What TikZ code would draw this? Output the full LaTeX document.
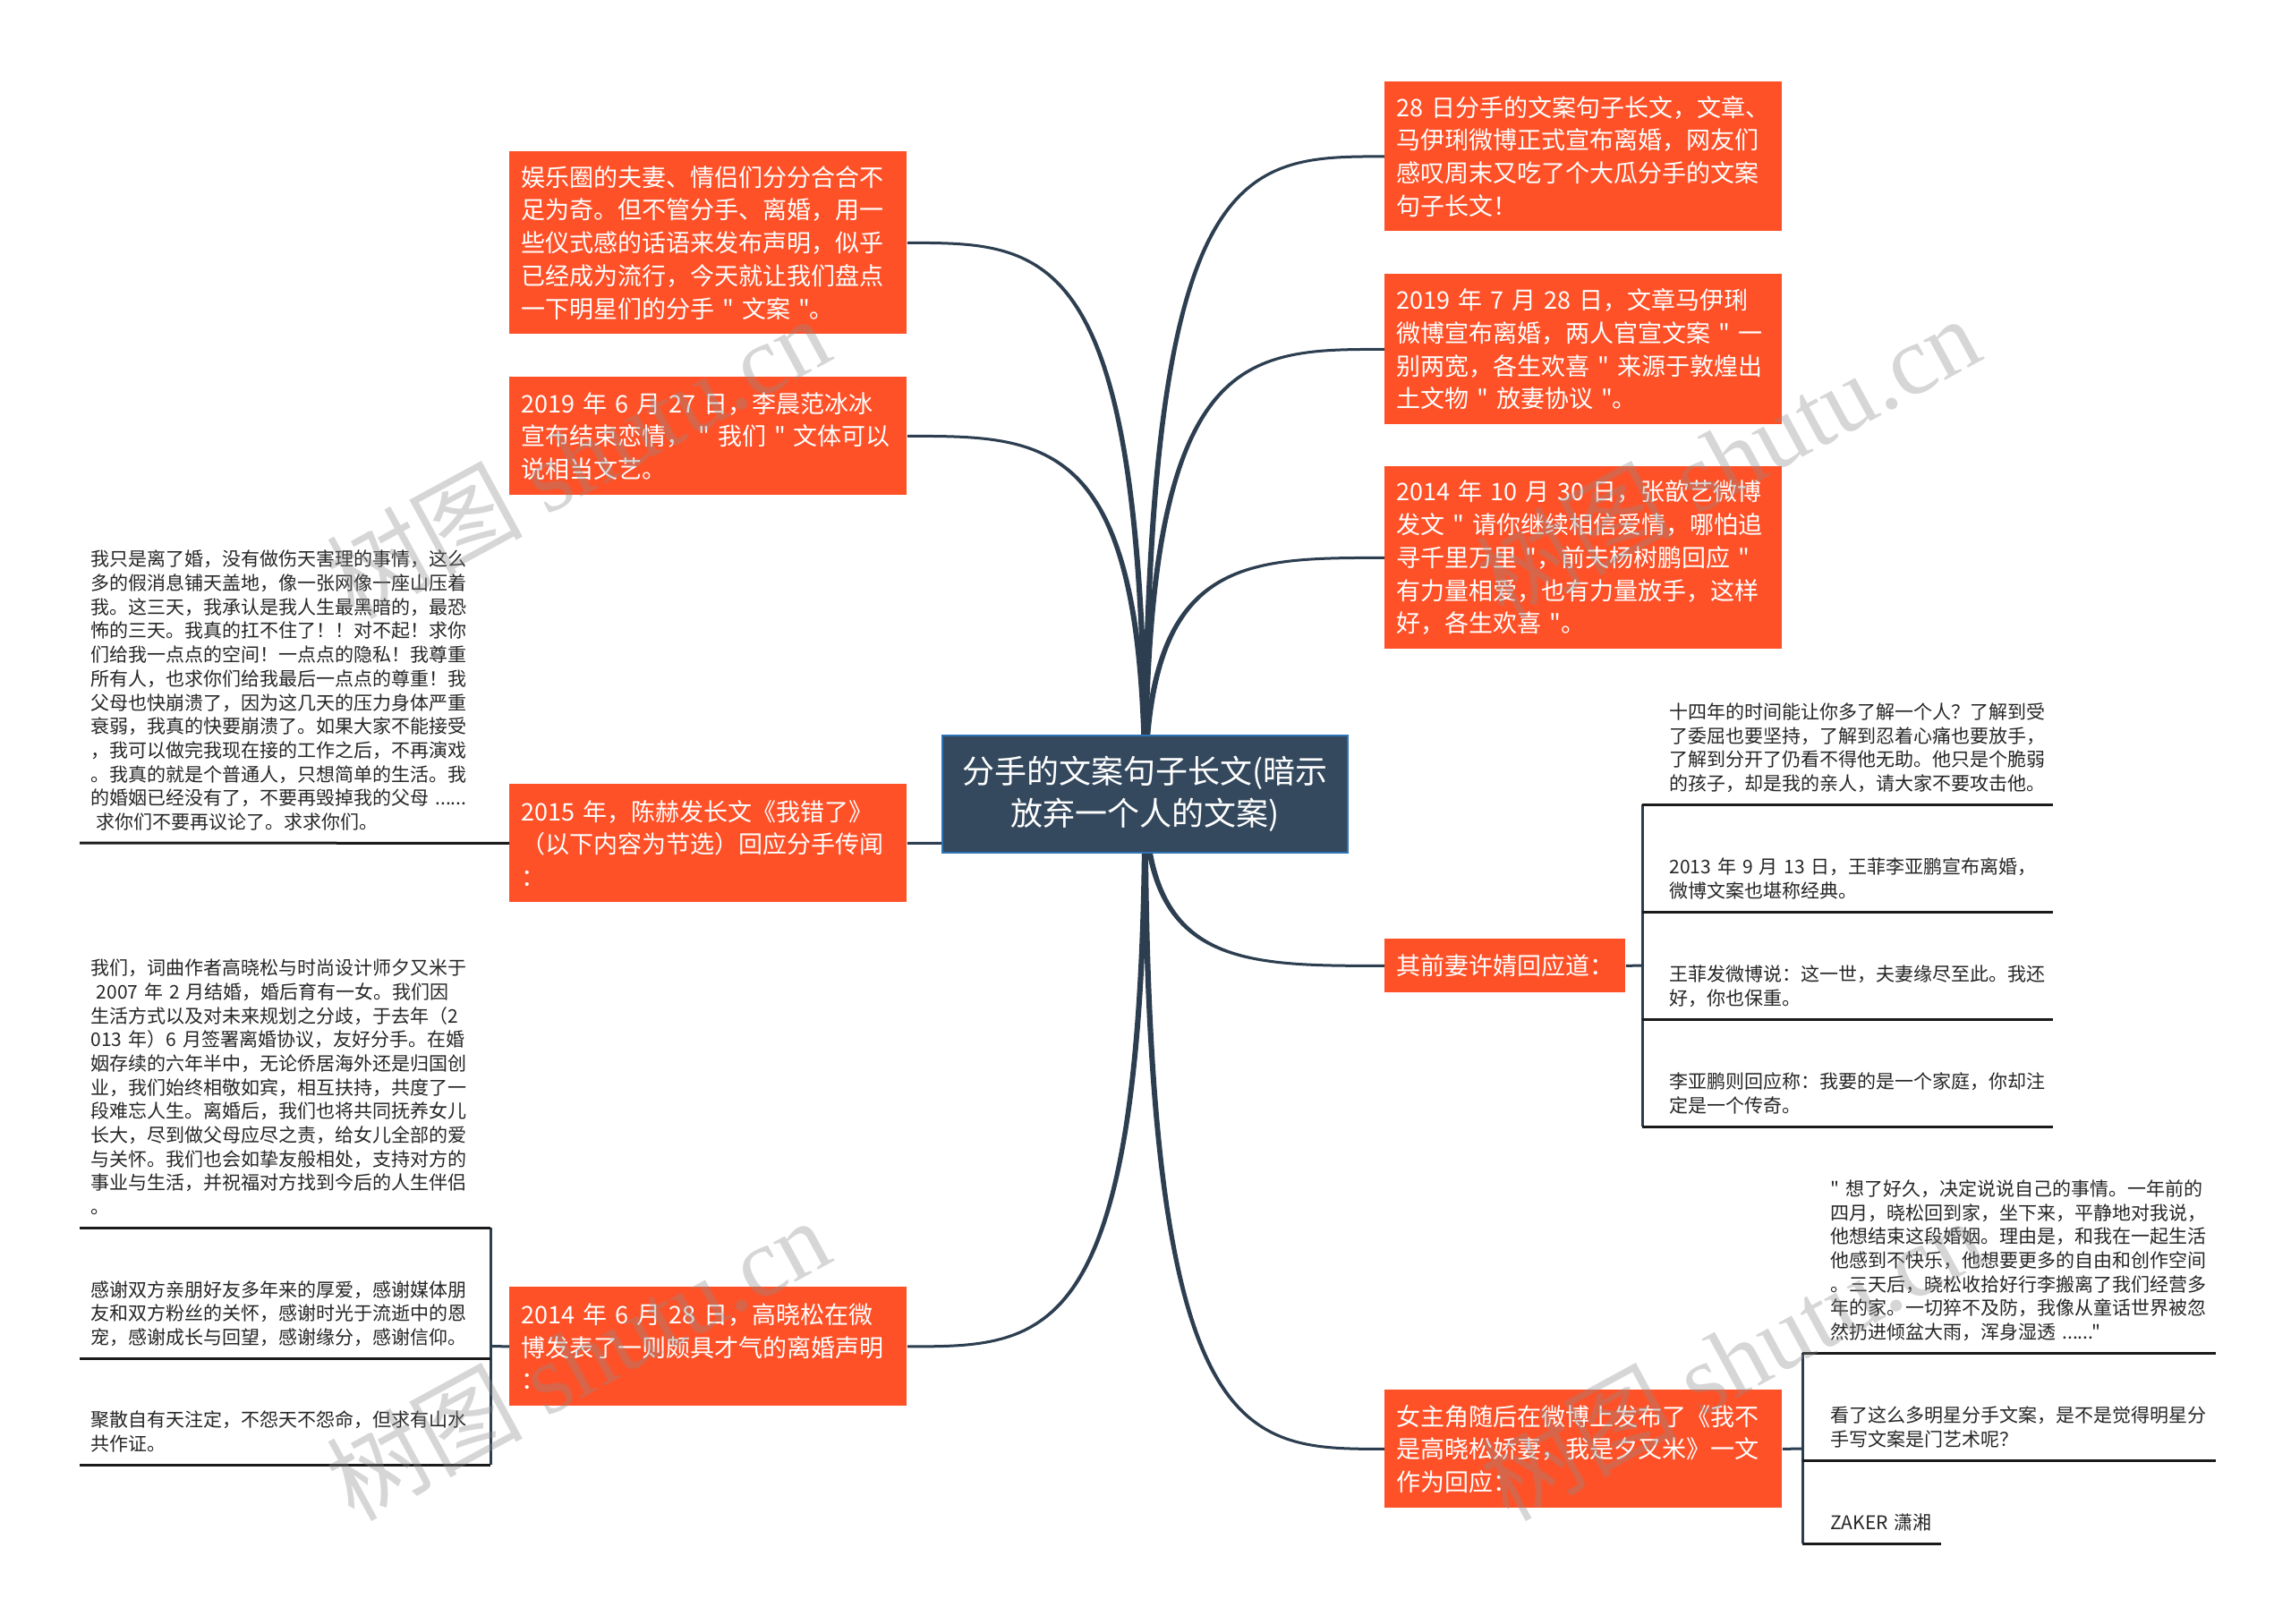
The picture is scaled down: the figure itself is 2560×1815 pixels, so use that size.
\documentclass[tikz,border=0pt]{standalone}
\usepackage{fontspec}
\setmainfont[Ligatures=TeXOff]{Noto Sans CJK SC}
\newfontfamily\wmfont{Liberation Serif}
\usetikzlibrary{calc,backgrounds}
\definecolor{orng}{HTML}{FE5128}
\definecolor{rootfill}{HTML}{34495E}
\definecolor{rootline}{HTML}{2E75B6}
\definecolor{slate}{HTML}{2C3E50}
\definecolor{leafline}{HTML}{1A1A1A}
\definecolor{leaftext}{HTML}{262626}
\newcommand\brw{1.6pt}
\newcommand\tpw{0.75pt}
\newcommand\branch[3]{%
  \fill[slate] let \p1=(root.center), \p2=(#1) in
    ({\x1+(#2)*\brw},\y1) .. controls ({\x1+(#2)*\brw},{\y2+(#3)*\tpw}) and ({\x1+0.4*(\x2-\x1)},{\y2+(#3)*\tpw}) .. ({\x2},{\y2+(#3)*\tpw})
    -- ({\x2},{\y2-(#3)*\tpw}) .. controls ({\x1+0.4*(\x2-\x1)},{\y2-(#3)*\tpw}) and ({\x1-(#2)*\brw},{\y2-(#3)*\tpw}) .. ({\x1-(#2)*\brw},\y1) -- cycle;}
\begin{document}
\begin{tikzpicture}[x=0.5pt,y=-0.5pt,
 obox/.style={rectangle,fill=orng,text=white,anchor=north west,align=left,inner xsep=6.5pt,inner ysep=0pt,text width=209pt,font=\fontsize{13.5}{18.35}\selectfont},
 rootbox/.style={rectangle,fill=rootfill,draw=rootline,line width=1pt,text=white,align=center,minimum width=226.5pt,minimum height=65.5pt,inner sep=0pt,font=\fontsize{18}{23.3}\selectfont},
 leaf/.style={anchor=south west,align=left,inner xsep=0pt,inner ysep=3.5pt,text=leaftext,font=\fontsize{10.5}{13.35}\selectfont,execute at end node=\strut},
 uline/.style={draw=leafline,line width=1.5pt},
 brk/.style={draw=slate,line width=1.5pt},
 wm/.style={text=black!45,text opacity=0.35,rotate=28.5,font=\fontsize{55}{60}\selectfont,inner sep=0pt}
]
\useasboundingbox (0,0) rectangle (2560,1815);

% root
\node[rootbox] (root) at (1279.5,887.5) {分手的文案句子长文(暗示\\放弃一个人的文案)};

% left branch nodes
\node[obox,minimum height=102pt] (n1) at (569,169) {娱乐圈的夫妻、情侣们分分合合不\\足为奇。但不管分手、离婚，用一\\些仪式感的话语来发布声明，似乎\\已经成为流行，今天就让我们盘点\\一下明星们的分手~"~文案~"。};
\node[obox,minimum height=66pt] (n2) at (569,421) {2019~年~6~月~27~日，李晨范冰冰\\宣布结束恋情，~"~我们~"~文体可以\\说相当文艺。};
\node[obox,minimum height=66pt] (n3) at (569,876) {2015~年，陈赫发长文《我错了》\\（以下内容为节选）回应分手传闻\\：};
\node[obox,minimum height=66.5pt] (n4) at (569,1438) {2014~年~6~月~28~日，高晓松在微\\博发表了一则颇具才气的离婚声明\\：};

% right branch nodes
\node[obox,minimum height=83.5pt] (n5) at (1547,91) {28~日分手的文案句子长文，文章、\\马伊琍微博正式宣布离婚，网友们\\感叹周末又吃了个大瓜分手的文案\\句子长文！};
\node[obox,minimum height=84pt] (n6) at (1547,306) {2019~年~7~月~28~日，文章马伊琍\\微博宣布离婚，两人官宣文案~"~一\\别两宽，各生欢喜~"~来源于敦煌出\\土文物~"~放妻协议~"。};
\node[obox,minimum height=102pt] (n7) at (1547,521) {2014~年~10~月~30~日，张歆艺微博\\发文~"~请你继续相信爱情，哪怕追\\寻千里万里~"，前夫杨树鹏回应~"\\有力量相爱，也有力量放手，这样\\好，各生欢喜~"。};
\node[obox,minimum height=30pt,text width=121.5pt] (n8) at (1547,1049) {其前妻许婧回应道：};
\node[obox,minimum height=66pt] (n9) at (1547,1553) {女主角随后在微博上发布了《我不\\是高晓松娇妻，我是夕又米》一文\\作为回应：};

% leaves of n3
\node[leaf,text width=215pt] (l31) at (101,942) {我只是离了婚，没有做伤天害理的事情，这么\\多的假消息铺天盖地，像一张网像一座山压着\\我。这三天，我承认是我人生最黑暗的，最恐\\怖的三天。我真的扛不住了！！对不起！求你\\们给我一点点的空间！一点点的隐私！我尊重\\所有人，也求你们给我最后一点点的尊重！我\\父母也快崩溃了，因为这几天的压力身体严重\\衰弱，我真的快要崩溃了。如果大家不能接受\\，我可以做完我现在接的工作之后，不再演戏\\。我真的就是个普通人，只想简单的生活。我\\的婚姻已经没有了，不要再毁掉我的父母~......\\\hspace*{0.3em}求你们不要再议论了。求求你们。};

% leaves of n4
\node[leaf,text width=223.5pt] (l41) at (101,1372) {我们，词曲作者高晓松与时尚设计师夕又米于\\\hspace*{0.3em}2007~年~2~月结婚，婚后育有一女。我们因\\生活方式以及对未来规划之分歧，于去年（2\\013~年）6~月签署离婚协议，友好分手。在婚\\姻存续的六年半中，无论侨居海外还是归国创\\业，我们始终相敬如宾，相互扶持，共度了一\\段难忘人生。离婚后，我们也将共同抚养女儿\\长大，尽到做父母应尽之责，给女儿全部的爱\\与关怀。我们也会如挚友般相处，支持对方的\\事业与生活，并祝福对方找到今后的人生伴侣\\。};
\node[leaf,text width=223.5pt] (l42) at (101,1518) {感谢双方亲朋好友多年来的厚爱，感谢媒体朋\\友和双方粉丝的关怀，感谢时光于流逝中的恩\\宠，感谢成长与回望，感谢缘分，感谢信仰。};
\node[leaf,text width=223.5pt] (l43) at (101,1637) {聚散自有天注定，不怨天不怨命，但求有山水\\共作证。};

% leaves of n8
\node[leaf,text width=214pt] (l81) at (1865,899) {十四年的时间能让你多了解一个人？了解到受\\了委屈也要坚持，了解到忍着心痛也要放手，\\了解到分开了仍看不得他无助。他只是个脆弱\\的孩子，却是我的亲人，请大家不要攻击他。};
\node[leaf,text width=214pt] (l82) at (1865,1019) {2013~年~9~月~13~日，王菲李亚鹏宣布离婚，\\微博文案也堪称经典。};
\node[leaf,text width=214pt] (l83) at (1865,1139) {王菲发微博说：这一世，夫妻缘尽至此。我还\\好，你也保重。};
\node[leaf,text width=214pt] (l84) at (1865,1259) {李亚鹏则回应称：我要的是一个家庭，你却注\\定是一个传奇。};

% leaves of n9
\node[leaf,text width=215pt] (l91) at (2045,1512) {"~想了好久，决定说说自己的事情。一年前的\\四月，晓松回到家，坐下来，平静地对我说，\\他想结束这段婚姻。理由是，和我在一起生活\\他感到不快乐，他想要更多的自由和创作空间\\。三天后，晓松收拾好行李搬离了我们经营多\\年的家。一切猝不及防，我像从童话世界被忽\\然扔进倾盆大雨，浑身湿透~......"};
\node[leaf,text width=215pt] (l92) at (2045,1632) {看了这么多明星分手文案，是不是觉得明星分\\手写文案是门艺术呢？};
\node[leaf,text width=61.5pt] (l93) at (2045,1725) {ZAKER~潇湘};

% bracket coordinates
\coordinate (b4) at (548,1504.5);
\coordinate (b8) at (1835,1079);
\coordinate (b9) at (2014,1619);

\begin{pgfonlayer}{background}
\fill[white] (0,0) rectangle (2560,1815);
\branch{n1.east}{-1}{-1}
\branch{n2.east}{-1}{-1}
\branch{n3.east}{1}{-1}
\branch{n4.east}{1}{-1}
\branch{n5.west}{-1}{1}
\branch{n6.west}{-1}{1}
\branch{n7.west}{-1}{1}
\branch{n8.west}{1}{1}
\branch{n9.west}{1}{1}
\end{pgfonlayer}

% n3 leaf
\draw[uline] ([xshift=-6pt]l31.south west) -- (n3.west);

% n4 leaves
\draw[brk] (n4.west) -- (b4);
\draw[brk] (l41.south -| b4) -- (l43.south -| b4);
\draw[uline] ([xshift=-6pt]l41.south west) -- (l41.south -| b4);
\draw[uline] ([xshift=-6pt]l42.south west) -- (l42.south -| b4);
\draw[uline] ([xshift=-6pt]l43.south west) -- (l43.south -| b4);

% n8 leaves
\draw[brk] (n8.east) -- (b8);
\draw[brk] (l81.south -| b8) -- (l84.south -| b8);
\draw[uline] (l81.south -| b8) -- (l81.south east);
\draw[uline] (l82.south -| b8) -- (l82.south east);
\draw[uline] (l83.south -| b8) -- (l83.south east);
\draw[uline] (l84.south -| b8) -- (l84.south east);

% n9 leaves
\draw[brk] (n9.east) -- (b9);
\draw[brk] (l91.south -| b9) -- (l93.south -| b9);
\draw[uline] (l91.south -| b9) -- (l91.south east);
\draw[uline] (l92.south -| b9) -- (l92.south east);
\draw[uline] (l93.south -| b9) -- (l93.south east);

% watermarks
\node[wm] (w1) at (645,510) {树图~{\wmfont shutu.cn}};
\node[wm] (w2) at (1930,510) {树图~{\wmfont shutu.cn}};
\node[wm] (w3) at (645,1518) {树图~{\wmfont shutu.cn}};
\node[wm] (w4) at (1935,1518) {树图~{\wmfont shutu.cn}};
\end{tikzpicture}
\end{document}
